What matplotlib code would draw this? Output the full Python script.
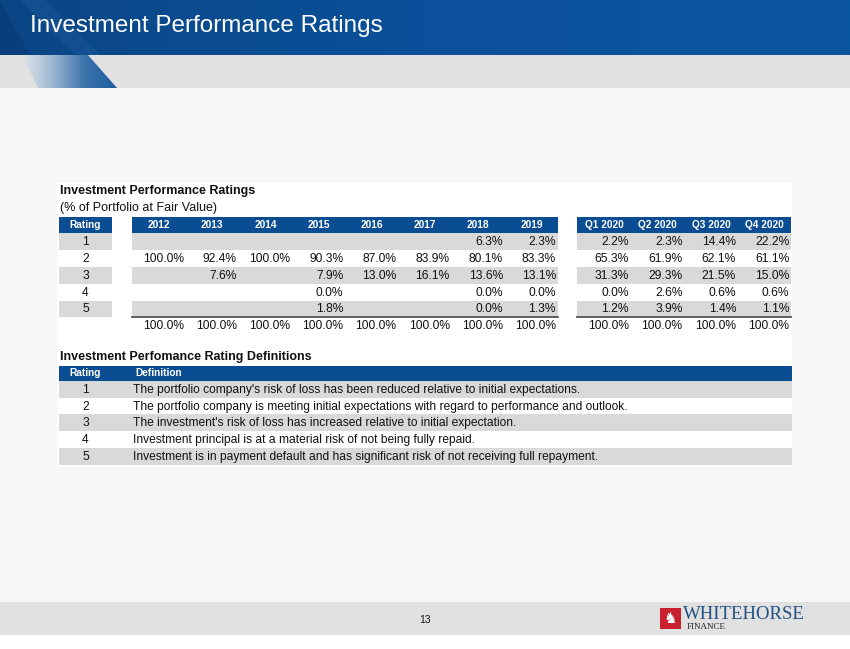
"""
Diapositiva 'Investment Performance Ratings': tabla de ratings por año/trimestre
y tabla de definiciones, dibujadas en coordenadas de píxel.
"""

import numpy as np
import matplotlib.pyplot as plt
from matplotlib.patches import Rectangle, Polygon
from matplotlib.colors import LinearSegmentedColormap

plt.rcParams["font.family"] = ["Liberation Sans", "DejaVu Sans"]

ANCHO, ALTO = 850, 649
AZUL = "#0b4d93"
GRIS_FILA = "#d9d9d9"
FONDO = "#f7f7f7"
FS_CUERPO = 8.65
FS_CAB = 7.3
FS_TITULO = 9.0

# ---------------------------------------------------------------------------
# Datos
# ---------------------------------------------------------------------------
ratings = ["1", "2", "3", "4", "5"]
anios = ["2012", "2013", "2014", "2015", "2016", "2017", "2018", "2019"]
trimestres = ["Q1 2020", "Q2 2020", "Q3 2020", "Q4 2020"]

# None = celda vacía
valores_anios = [
    [None, None, None, None, None, None, 6.3, 2.3],
    [100.0, 92.4, 100.0, 90.3, 87.0, 83.9, 80.1, 83.3],
    [None, 7.6, None, 7.9, 13.0, 16.1, 13.6, 13.1],
    [None, None, None, 0.0, None, None, 0.0, 0.0],
    [None, None, None, 1.8, None, None, 0.0, 1.3],
]
totales_anios = [100.0] * 8

valores_trim = [
    [2.2, 2.3, 14.4, 22.2],
    [65.3, 61.9, 62.1, 61.1],
    [31.3, 29.3, 21.5, 15.0],
    [0.0, 2.6, 0.6, 0.6],
    [1.2, 3.9, 1.4, 1.1],
]
totales_trim = [100.0] * 4

definiciones = [
    "The portfolio company's risk of loss has been reduced relative to initial expectations.",
    "The portfolio company is meeting initial expectations with regard to performance and outlook.",
    "The investment's risk of loss has increased relative to initial expectation.",
    "Investment principal is at a material risk of not being fully repaid.",
    "Investment is in payment default and has significant risk of not receiving full repayment.",
]


def rect(ax, x0, y0, x1, y1, color, z=1):
    ax.add_patch(Rectangle((x0, y0), x1 - x0, y1 - y0, facecolor=color,
                           edgecolor="none", zorder=z))


def bloque_valores(ax, x0, ancho_col, cabeceras, valores, totales,
                   y_cab, alto_fila):
    n = len(cabeceras)
    x1 = x0 + n * ancho_col
    rect(ax, x0, y_cab, x1, y_cab + alto_fila, AZUL, 2)
    for j, c in enumerate(cabeceras):
        ax.text(x0 + (j + 0.5) * ancho_col, y_cab + alto_fila / 2 + 0.5, c,
                color="white", fontsize=FS_CAB, fontweight="bold",
                ha="center", va="center", zorder=3)
    for i, fila in enumerate(valores):
        yf = y_cab + (i + 1) * alto_fila
        if i % 2 == 0:
            rect(ax, x0, yf, x1, yf + alto_fila, GRIS_FILA, 2)
        for j, v in enumerate(fila):
            if v is None:
                continue
            ax.text(x0 + (j + 1) * ancho_col - 2, yf + alto_fila / 2 + 0.5,
                    f"{v:.1f}%", fontsize=FS_CUERPO, ha="right", va="center",
                    color="#111111", zorder=3)
    y_tot = y_cab + (len(valores) + 1) * alto_fila
    ax.plot([x0, x1], [y_tot, y_tot], color="#555555", lw=1.3, zorder=4)
    for j, v in enumerate(totales):
        ax.text(x0 + (j + 1) * ancho_col - 2, y_tot + alto_fila / 2 + 0.5,
                f"{v:.1f}%", fontsize=FS_CUERPO, ha="right", va="center",
                color="#111111", zorder=3)


def main():
    fig = plt.figure(figsize=(ANCHO / 100, ALTO / 100), dpi=100)
    ax = fig.add_axes([0, 0, 1, 1])
    ax.set_xlim(0, ANCHO)
    ax.set_ylim(ALTO, 0)
    ax.axis("off")

    # Fondo general y bandas
    rect(ax, 0, 0, ANCHO, ALTO, "white", 0)
    rect(ax, 0, 88, ANCHO, 602, FONDO, 0)
    rect(ax, 0, 55, ANCHO, 88, "#e2e2e2", 0)
    rect(ax, 0, 602, ANCHO, 635, "#e1e1e1", 0)

    # Banda azul superior con degradado
    grad = np.linspace(0, 1, 256).reshape(1, -1)
    cmap_azul = LinearSegmentedColormap.from_list(
        "azul", ["#0a4685", "#0b509a", "#0b56a0"])
    ax.imshow(grad, extent=[0, ANCHO, 55, 0], cmap=cmap_azul,
              aspect="auto", zorder=1)
    # Franja diagonal decorativa
    diag = Polygon([(22, 55), (88, 55), (117, 88), (38, 88)], closed=True,
                   facecolor="none", edgecolor="none")
    ax.add_patch(diag)
    cmap_diag = LinearSegmentedColormap.from_list(
        "diag", ["#e2e6ea", "#9ab6d2", "#3a72ab", "#1f5e9e"])
    im = ax.imshow(grad, extent=[22, 117, 88, 55], cmap=cmap_diag,
                   aspect="auto", zorder=1)
    im.set_clip_path(diag)
    oscuro = Polygon([(0, 0), (0, 55), (30, 55)], closed=True,
                     facecolor="#083a70", edgecolor="none", alpha=0.5,
                     zorder=1)
    ax.add_patch(oscuro)
    luz = Polygon([(20, 0), (45, 0), (100, 55), (75, 55)], closed=True,
                  facecolor="#2a63a3", edgecolor="none", alpha=0.3, zorder=1)
    ax.add_patch(luz)

    ax.text(30, 26, "Investment Performance Ratings", color="white",
            fontsize=17.5, ha="left", va="center", zorder=3)

    # Recuadro blanco de contenido
    rect(ax, 57, 183, 792, 467, "white", 1)

    # Tabla 1
    ax.text(60, 191, "Investment Performance Ratings", fontsize=FS_TITULO,
            fontweight="bold", ha="left", va="center", color="#111111")
    ax.text(60, 208, "(% of Portfolio at Fair Value)", fontsize=FS_TITULO,
            ha="left", va="center", color="#111111")

    y_cab, alto_fila = 216.5, 16.8
    rect(ax, 59, y_cab, 112, y_cab + alto_fila, AZUL, 2)
    ax.text(85.5, y_cab + alto_fila / 2 + 0.5, "Rating", color="white",
            fontsize=FS_CAB, fontweight="bold", ha="center", va="center",
            zorder=3)
    for i, r in enumerate(ratings):
        yf = y_cab + (i + 1) * alto_fila
        if i % 2 == 0:
            rect(ax, 59, yf, 112, yf + alto_fila, GRIS_FILA, 2)
        ax.text(85.5, yf + alto_fila / 2 + 0.5, r, fontsize=FS_CUERPO,
                ha="center", va="center", color="#111111", zorder=3)

    bloque_valores(ax, 132.5, 53.2, anios, valores_anios, totales_anios,
                   y_cab, alto_fila)
    bloque_valores(ax, 577.5, 53.5, trimestres, valores_trim, totales_trim,
                   y_cab, alto_fila)

    # Tabla 2: definiciones
    ax.text(60, 357, "Investment Perfomance Rating Definitions",
            fontsize=FS_TITULO, fontweight="bold", ha="left", va="center",
            color="#111111")
    y_def, alto_def = 365.5, 16.7
    rect(ax, 59, y_def, 792, y_def + 15.5, AZUL, 2)
    ax.text(85.5, y_def + 8, "Rating", color="white",
            fontsize=FS_CAB, fontweight="bold", ha="center", va="center",
            zorder=3)
    ax.text(135, y_def + 8, "Definition", color="white",
            fontsize=FS_CAB, fontweight="bold", ha="left", va="center",
            zorder=3)
    for i, (r, d) in enumerate(zip(ratings, definiciones)):
        yf = y_def + 15.5 + i * alto_def
        if i % 2 == 0:
            rect(ax, 59, yf, 792, yf + alto_def, GRIS_FILA, 2)
        ax.text(85.5, yf + alto_def / 2 + 0.5, r, fontsize=FS_CUERPO,
                ha="center", va="center", color="#111111", zorder=3)
        ax.text(133, yf + alto_def / 2 + 0.5, d, fontsize=FS_CUERPO,
                ha="left", va="center", color="#111111", zorder=3)

    # Pie: número de página y logotipo
    ax.text(425, 620, "13", fontsize=7.5, ha="center", va="center",
            color="#111111")
    rect(ax, 660, 608, 681, 629, "#c8202f", 3)
    ax.text(670.5, 618.5, "\u265e", fontsize=11, color="white",
            ha="center", va="center", zorder=4,
            family=["DejaVu Sans"])
    ax.text(683, 614.5, "WHITEHORSE", fontsize=13.5, color="#1f4f82",
            family=["Liberation Serif", "DejaVu Serif"], ha="left",
            va="center", zorder=3)
    ax.text(687, 627, "FINANCE", fontsize=6.5, color="#222222",
            family=["Liberation Serif", "DejaVu Serif"], ha="left",
            va="center", zorder=3)

    fig.savefig("out.png", dpi=100)
    plt.close(fig)


if __name__ == "__main__":
    main()
